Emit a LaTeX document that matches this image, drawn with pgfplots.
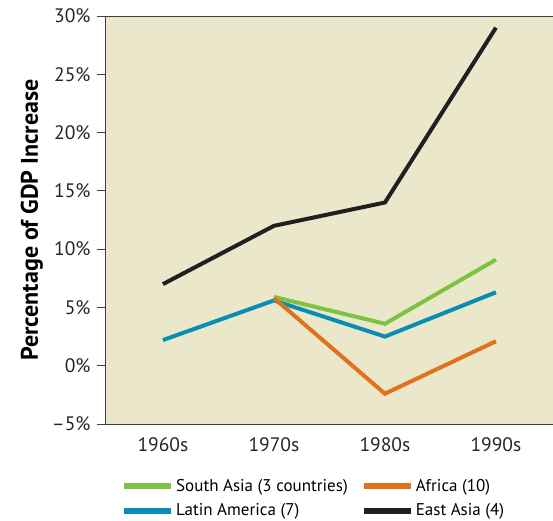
\documentclass[border=0pt]{standalone}
\usepackage{pgfplots}
\pgfplotsset{compat=1.18}
\usepackage{fontspec}
\setmainfont{PT Sans}
\definecolor{bg}{HTML}{EBE7CA}
\definecolor{sgreen}{HTML}{7DC242}
\definecolor{sblue}{HTML}{0A8DB5}
\definecolor{sorange}{HTML}{E2711D}
\definecolor{sblack}{HTML}{231F20}
\begin{document}
\begin{tikzpicture}
\begin{axis}[
  name=ax,
  anchor=south west, at={(0,0)},
  scale only axis, width=447pt, height=408pt,
  xmin=-0.513, xmax=3.514, ymin=-5, ymax=30,
  axis background/.style={fill=bg},
  axis line style={draw=none},
  xtick={0,1,2,3}, xticklabels={1960s,1970s,1980s,1990s},
  ytick={-5,0,5,10,15,20,25,30},
  yticklabels={--5\%,0\%,5\%,10\%,15\%,20\%,25\%,30\%},
  major x tick style={draw=none},
  ytick pos=left, xtick pos=bottom,
  major tick length=9pt,
  y tick style={draw=black!75, line width=0.8pt},
  tick align=outside,
  tick label style={font=\fontsize{19.5}{23}\selectfont, text=black!85},
  xticklabel style={yshift=-1pt},
  yticklabel style={xshift=-3pt},
  ylabel={\bfseries Percentage of GDP Increase},
  ylabel style={font=\fontsize{24}{28}\selectfont, yshift=2pt},
  legend style={draw=none, fill=none, at={(rel axis cs:0,0)}, anchor=north west,
     xshift=12pt, yshift=-51pt, font=\fontsize{17}{20}\selectfont,
     /tikz/every even column/.append style={column sep=11pt},
     row sep=7pt},
  legend cell align=left,
  legend columns=2,
  legend image code/.code={\draw[line width=6pt] (0pt,0pt) -- (47pt,0pt);},
  clip=false,
]
\addplot[sblack, line width=4pt, forget plot] coordinates {(0,7.0) (1,12.0) (2,14.0) (3,29.0)};
\addplot[sblue, line width=4pt, forget plot] coordinates {(0,2.2) (1,5.6) (2,2.5) (3,6.3)};
\addplot[sgreen, line width=4pt, forget plot] coordinates {(1,5.9) (2,3.6) (3,9.1)};
\addplot[sorange, line width=4pt, forget plot] coordinates {(1,5.8) (2,-2.4) (3,2.1)};
\addlegendimage{sgreen}\addlegendentry{South Asia (3 countries)}
\addlegendimage{sorange}\addlegendentry{Africa (10)}
\addlegendimage{sblue}\addlegendentry{Latin America (7)}
\addlegendimage{sblack}\addlegendentry{East Asia (4)}
\draw[black!75, line width=1pt] (rel axis cs:0,1) -- (rel axis cs:0,0) -- (rel axis cs:1,0);
\draw[black!75, line width=1pt] (rel axis cs:0,1) -- (rel axis cs:1,1);
\end{axis}
\pgfresetboundingbox
\useasboundingbox (ax.south west) ++(-106pt,-96pt) rectangle ++(553pt,520pt);
\end{tikzpicture}
\end{document}
